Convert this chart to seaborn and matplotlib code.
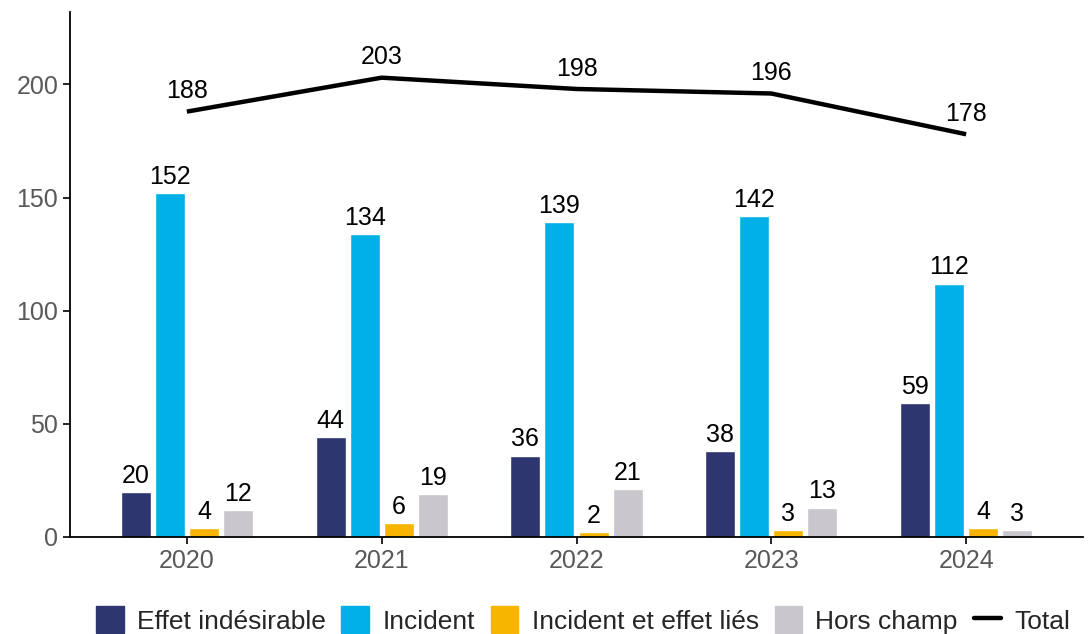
import matplotlib
matplotlib.use("Agg")
import matplotlib.pyplot as plt
import matplotlib.patches as mpatches
import matplotlib.lines as mlines
import numpy as np
import pandas as pd
import seaborn as sns

years = ["2020", "2021", "2022", "2023", "2024"]
categories = ["Effet indésirable", "Incident", "Incident et effet liés", "Hors champ"]
effet = [20, 44, 36, 38, 59]
incident = [152, 134, 139, 142, 112]
lies = [4, 6, 2, 3, 4]
hors = [12, 19, 21, 13, 3]
totals = [188, 203, 198, 196, 178]
colors = ["#2e3670", "#00b0e6", "#f7b500", "#c9c7cc"]

sns.set_theme(style="white")
plt.rcParams["font.family"] = ["Liberation Sans", "DejaVu Sans"]

rows = []
for cat, vals in zip(categories, [effet, incident, lies, hors]):
    for y, v in zip(years, vals):
        rows.append({"year": y, "cat": cat, "value": v})
df = pd.DataFrame(rows)

fig = plt.figure(figsize=(10.9, 6.34), dpi=100)
ax = fig.add_axes([0.0642, 0.153, 0.9294, 0.828])

sns.barplot(data=df, x="year", y="value", hue="cat", hue_order=categories,
            palette=colors, width=0.7, gap=0.12, ax=ax, legend=False,
            errorbar=None, saturation=1)

for cont in ax.containers:
    ax.bar_label(cont, padding=3, fontsize=18, color="black")

xpos = np.arange(len(years))
ax.plot(xpos, totals, color="black", linewidth=3.2, solid_capstyle="butt")
for x, t in zip(xpos, totals):
    ax.annotate(str(t), (x, t), xytext=(0, 6), textcoords="offset points",
                ha="center", va="bottom", fontsize=18, color="black")

ax.set_xlim(-0.6, 4.6)
ax.set_ylim(0, 232)
ax.set_yticks([0, 50, 100, 150, 200])
ax.set_xlabel("")
ax.set_ylabel("")
for s in ["top", "right"]:
    ax.spines[s].set_visible(False)
for s in ["left", "bottom"]:
    ax.spines[s].set_color("black")
    ax.spines[s].set_linewidth(1.3)
ax.tick_params(axis="both", which="both", direction="out", length=5, width=1.2,
               color="black", labelsize=18, labelcolor="#595959", left=True, bottom=True)

handles = [mpatches.Patch(color=c, label=l) for c, l in zip(colors, categories)]
handles.append(mlines.Line2D([], [], color="black", linewidth=3.2, label="Total"))
fig.legend(handles=handles, loc="center", bbox_to_anchor=(0.535, 0.022), ncol=5,
           frameon=False, fontsize=19, handlelength=1.05, handleheight=1.2,
           handletextpad=0.5, columnspacing=0.6)

fig.savefig("out.png", dpi=100)
